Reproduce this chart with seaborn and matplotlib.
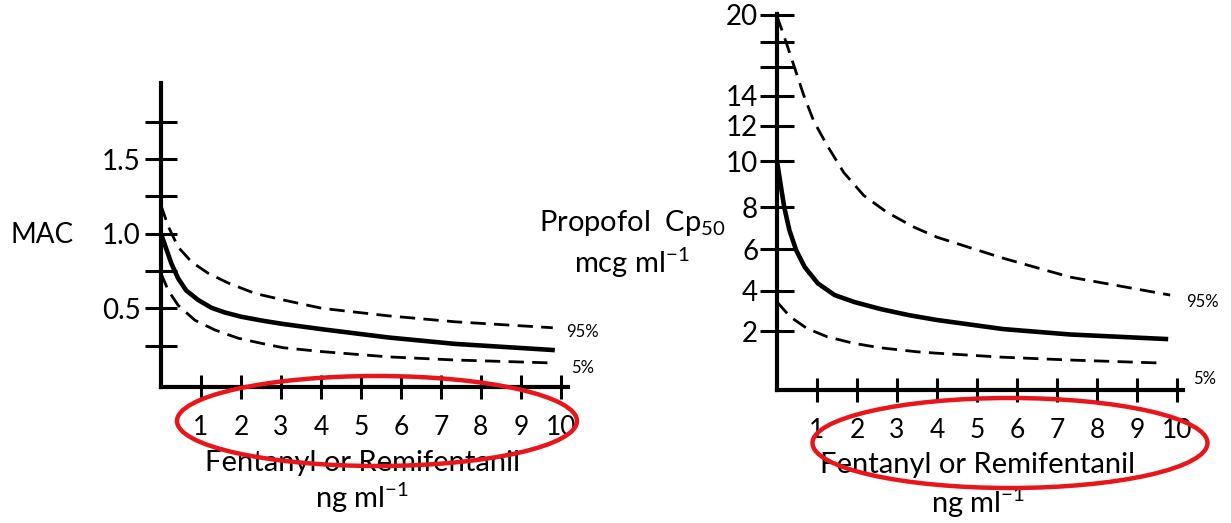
import numpy as np
import pandas as pd
import matplotlib
matplotlib.use("Agg")
import matplotlib.pyplot as plt
from matplotlib.patches import Ellipse
import seaborn as sns

# ---- data: opioid concentration (ng/ml) vs. anaesthetic requirement ----
# Left panel: MAC of volatile agent
mac50_conc = [0, 0.13, 0.26, 0.43, 0.63, 0.93, 1.26, 1.59, 2.0, 2.59, 3.06, 4.03, 5.68, 7.35, 9.85]
mac50 = [1.0, 0.90, 0.80, 0.70, 0.62, 0.556, 0.504, 0.473, 0.444, 0.415, 0.395, 0.36, 0.305, 0.262, 0.22]
mac95_conc = [0, 0.18, 0.43, 0.77, 1.18, 1.68, 2.35, 3.06, 4.03, 5.68, 7.35, 9.8]
mac95 = [1.19, 1.05, 0.91, 0.81, 0.735, 0.67, 0.60, 0.556, 0.50, 0.45, 0.41, 0.37]
mac5_conc = [0, 0.18, 0.43, 0.85, 1.35, 1.93, 2.52, 3.06, 4.03, 5.68, 7.35, 9.8]
mac5 = [0.735, 0.62, 0.52, 0.42, 0.355, 0.30, 0.265, 0.236, 0.21, 0.175, 0.154, 0.134]

# Right panel: propofol Cp50 (mcg/ml)
cp50_conc = [0, 0.1, 0.18, 0.31, 0.48, 0.69, 1.02, 1.44, 1.94, 2.6, 3.3, 4.0, 5.65, 7.33, 9.78]
cp50 = [10.0, 8.87, 8.0, 6.9, 5.95, 5.15, 4.36, 3.79, 3.44, 3.09, 2.79, 2.55, 2.10, 1.83, 1.6]
cp95_conc = [0, 0.2, 0.42, 0.67, 0.92, 1.25, 1.67, 2.17, 2.74, 3.42, 4.0, 5.65, 7.33, 9.83]
cp95 = [19.9, 18.2, 16.1, 14.0, 12.3, 10.9, 9.5, 8.5, 7.76, 7.05, 6.57, 5.57, 4.66, 3.79]
cp5_conc = [0, 0.33, 0.75, 1.25, 1.92, 2.58, 3.5, 4.0, 5.65, 7.33, 9.6]
cp5 = [3.45, 2.71, 2.13, 1.72, 1.39, 1.17, 0.97, 0.9, 0.7, 0.56, 0.41]

x_ticks = list(range(1, 11))
x_tick_labels = [str(v) for v in x_ticks]
mac_ticks = [0.25, 0.5, 0.75, 1.0, 1.25, 1.5, 1.75]
mac_tick_labels = ["", "0.5", "", "1.0", "", "1.5", ""]
cp_ticks = [2, 4, 6, 8, 10, 12, 14, 16, 18, 20]
cp_tick_labels = ["2", "4", "6", "8", "10", "12", "14", "", "", "20"]

# ---- style ----
sns.set_style("white")
plt.rcParams["font.family"] = ["Lato", "DejaVu Sans"]
plt.rcParams["mathtext.fontset"] = "custom"
plt.rcParams["mathtext.rm"] = "Lato"
plt.rcParams["mathtext.it"] = "Lato:italic"
plt.rcParams["mathtext.bf"] = "Lato:bold"

INK = "black"
RED = "#e8161b"
DASH = (0, (5.5, 3.0))
W, H = 1231, 523

fig = plt.figure(figsize=(W / 100, H / 100), dpi=100)
fig.patch.set_facecolor("white")


def px_axes(left, top, right, bottom):
    return fig.add_axes([left / W, 1 - bottom / H, (right - left) / W, (bottom - top) / H])


ax_l = px_axes(161, 83, 568, 387)
ax_r = px_axes(777, 14, 1183, 390)


def draw_band(ax, xs, ys, solid):
    if solid:
        sns.lineplot(x=xs, y=ys, ax=ax, color=INK, linewidth=3.3, estimator=None,
                     sort=False, solid_joinstyle="round", solid_capstyle="butt")
    else:
        sns.lineplot(x=xs, y=ys, ax=ax, color=INK, linewidth=2.0, estimator=None,
                     sort=False, linestyle=DASH)


draw_band(ax_l, mac50_conc, mac50, True)
draw_band(ax_l, mac95_conc, mac95, False)
draw_band(ax_l, mac5_conc, mac5, False)

draw_band(ax_r, cp50_conc, cp50, True)
draw_band(ax_r, cp95_conc, cp95, False)
draw_band(ax_r, cp5_conc, cp5, False)

# hand-drawn propofol axis: evenly spaced up to 10, compressed above
cp_scale_values = np.array([-2, 0, 2, 4, 6, 8, 10, 12, 14, 16, 18, 20, 22], dtype=float)
cp_scale_pos = np.array([-21.6, 18.7, 59, 99.3, 141, 183.3, 229.3, 264.7, 295, 324, 349, 376, 403])


def cp_fwd(v):
    return np.interp(v, cp_scale_values, cp_scale_pos)


def cp_inv(p):
    return np.interp(p, cp_scale_pos, cp_scale_values)


ax_r.set_yscale("function", functions=(cp_fwd, cp_inv))

ax_l.set_xlim(0, 10.18)
ax_l.set_ylim(-0.027, 2.01)
ax_r.set_xlim(0, 10.15)
ax_r.set_ylim(-0.93, 20.05)

for ax in (ax_l, ax_r):
    ax.set_facecolor("none")
    for s in ("top", "right"):
        ax.spines[s].set_visible(False)
    for s in ("left", "bottom"):
        ax.spines[s].set_linewidth(3.0)
        ax.spines[s].set_color(INK)
        ax.spines[s].set_capstyle("projecting")
    ax.set_xticks(x_ticks)
    ax.set_xticklabels(x_tick_labels)
    ax.tick_params(axis="x", bottom=True, direction="inout", length=17, width=2.2,
                   color=INK, labelsize=19, pad=12, labelcolor=INK)
    ax.set_xlabel("")
    ax.set_ylabel("")

ax_l.set_yticks(mac_ticks)
ax_l.set_yticklabels(mac_tick_labels)
ax_l.tick_params(axis="y", left=True, direction="inout", length=23, width=2.2, color=INK,
                 labelsize=20, pad=3, labelcolor=INK)
ax_r.set_yticks(cp_ticks)
ax_r.set_yticklabels(cp_tick_labels)
ax_r.yaxis.set_minor_locator(matplotlib.ticker.NullLocator())
ax_r.tick_params(axis="y", left=True, direction="inout", length=25, width=2.2, color=INK,
                 labelsize=20, pad=1, labelcolor=INK)

# axis titles
ax_l.text(-0.292, 0.5, "MAC", transform=ax_l.transAxes, ha="center", va="center",
          fontsize=20, color=INK)
ax_r.text(-0.357, 0.444, "Propofol  Cp$_{50}$", transform=ax_r.transAxes,
          ha="center", va="center", fontsize=21, color=INK)
ax_r.text(-0.357, 0.338, "mcg ml$^{-1}$", transform=ax_r.transAxes,
          ha="center", va="center", fontsize=21, color=INK)

for ax, y1, y2 in ((ax_l, -0.25, -0.365), (ax_r, -0.1995, -0.30)):
    ax.text(0.495, y1, "Fentanyl or Remifentanil", transform=ax.transAxes,
            ha="center", va="center", fontsize=21, color=INK)
    ax.text(0.495, y2, "ng ml$^{-1}$", transform=ax.transAxes,
            ha="center", va="center", fontsize=21, color=INK)

# percentile tags at the curve ends
ax_l.text(10.13, 0.34, "95%", ha="left", va="center", fontsize=12, color=INK, clip_on=False)
ax_l.text(10.27, 0.10, "5%", ha="left", va="center", fontsize=12, color=INK, clip_on=False)
ax_r.text(10.22, 3.45, "95%", ha="left", va="center", fontsize=12, color=INK, clip_on=False)
ax_r.text(10.4, -0.38, "5%", ha="left", va="center", fontsize=12, color=INK, clip_on=False)

# red ellipses highlighting the opioid concentration scale
for cx, cy, ew, eh in ((377, 421, 400, 90), (1010, 443, 395, 90)):
    fig.add_artist(Ellipse((cx / W, 1 - cy / H), ew / W, eh / H, transform=fig.transFigure,
                           fill=False, edgecolor=RED, linewidth=3.2, zorder=10))

fig.savefig("out.png", dpi=100, facecolor="white")
